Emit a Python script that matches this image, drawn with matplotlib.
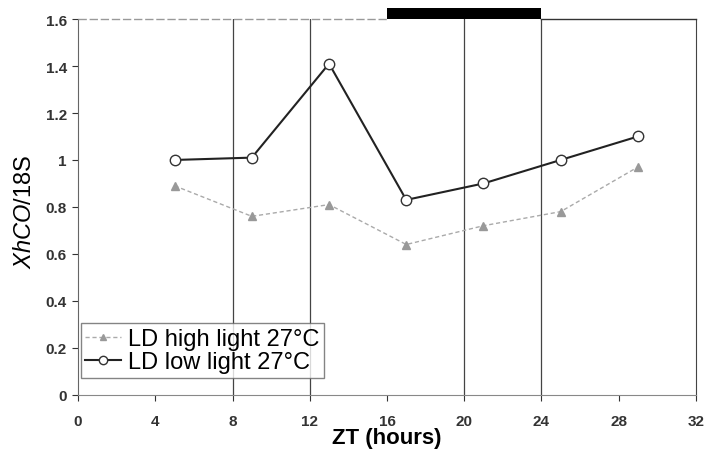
import matplotlib
matplotlib.use("Agg")
import matplotlib.pyplot as plt

# ZT sampling times (hours)
zt = [5, 9, 13, 17, 21, 25, 29]
high_light = [0.89, 0.76, 0.81, 0.64, 0.72, 0.78, 0.97]
low_light = [1.00, 1.01, 1.41, 0.83, 0.90, 1.00, 1.10]

x_ticks = [0, 4, 8, 12, 16, 20, 24, 28, 32]
y_ticks = [0, 0.2, 0.4, 0.6, 0.8, 1.0, 1.2, 1.4, 1.6]
y_tick_labels = ["0", "0.2", "0.4", "0.6", "0.8", "1", "1.2", "1.4", "1.6"]
grid_x = [8, 12, 20, 24]
dark_start, dark_end = 16, 24

plt.rcParams["font.family"] = ["Liberation Sans", "DejaVu Sans"]
plt.rcParams["mathtext.fontset"] = "custom"
plt.rcParams["mathtext.it"] = "Liberation Sans:italic"
plt.rcParams["mathtext.rm"] = "Liberation Sans"

fig = plt.figure(figsize=(7.1, 4.56), dpi=100)
ax = fig.add_axes([0.110, 0.132, 0.870, 0.824])

for gx in grid_x:
    ax.axvline(gx, color="#444444", lw=0.9, zorder=1)

# light/dark bar along the top
ax.plot([0, dark_start], [1.6, 1.6], color="#999999", lw=1.0, ls=(0, (6, 2)),
        clip_on=False, zorder=3)
ax.bar(dark_start, 0.045, width=dark_end - dark_start, bottom=1.6,
       align="edge", color="black", clip_on=False, zorder=3)
ax.plot([dark_end, 32], [1.6, 1.6], color="#333333", lw=1.0,
        clip_on=False, zorder=3)

ax.plot(zt, high_light, color="#aaaaaa", lw=1.0, ls=(0, (3, 2)), marker="^",
        ms=6, mfc="#999999", mec="#999999", label="LD high light 27\u00b0C",
        zorder=4)
ax.plot(zt, low_light, color="#222222", lw=1.5, marker="o", ms=7.5,
        mfc="white", mec="#333333", mew=1.0, label="LD low light 27\u00b0C",
        zorder=5)

ax.set_xlim(0, 32)
ax.set_ylim(0, 1.6)
ax.set_xticks(x_ticks)
ax.set_yticks(y_ticks)
ax.set_yticklabels(y_tick_labels)
ax.tick_params(axis="both", labelsize=11, length=4, width=0.8, colors="#333333")
for lab in ax.get_xticklabels() + ax.get_yticklabels():
    lab.set_fontweight("bold")
ax.tick_params(axis="x", pad=10)
ax.tick_params(axis="y", pad=4)

ax.spines["top"].set_visible(False)
ax.spines["right"].set_color("#444444")
ax.spines["left"].set_color("#666666")
ax.spines["bottom"].set_color("#888888")

ax.set_xlabel("ZT (hours)", fontsize=16, fontweight="bold", labelpad=-1)
ax.set_ylabel(r"$\mathit{XhCO}$/18S", fontsize=17)
ax.yaxis.set_label_coords(-0.068, 0.49)

leg = ax.legend(loc="lower left", bbox_to_anchor=(0.004, 0.045), fontsize=17,
                frameon=True, fancybox=False, edgecolor="#666666",
                handlelength=1.5, borderpad=0.2, labelspacing=0.05,
                handletextpad=0.3, borderaxespad=0.0, markerscale=0.8)
leg.get_frame().set_linewidth(1.0)

fig.savefig("out.png", dpi=100)
